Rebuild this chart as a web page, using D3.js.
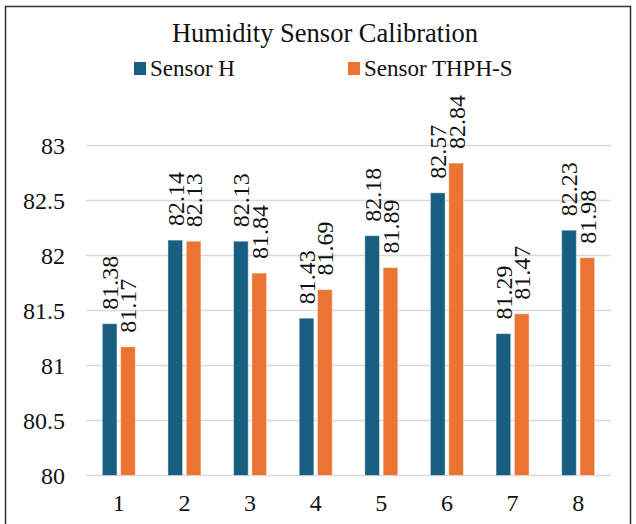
<!DOCTYPE html>
<html>
<head>
<meta charset="utf-8">
<script src="https://cdn.jsdelivr.net/npm/d3@7"></script>
<style>
  body { margin: 0; background: #fff; }
</style>
</head>
<body>
<svg id="chart"></svg>
<script>
// chart data
const categories = ["1", "2", "3", "4", "5", "6", "7", "8"];
const seriesNames = ["Sensor H", "Sensor THPH-S"];
const sensorH = [81.38, 82.14, 82.13, 81.43, 82.18, 82.57, 81.29, 82.23];
const sensorTHPHS = [81.17, 82.13, 81.84, 81.69, 81.89, 82.84, 81.47, 81.98];
const yTicks = [80, 80.5, 81, 81.5, 82, 82.5, 83];

const colors = ["#175e80", "#eb7433"];
const serif = "'Liberation Serif', 'Times New Roman', Times, serif";

const width = 636;
const height = 524;

const svg = d3.select("#chart")
    .attr("width", width)
    .attr("height", height)
    .attr("font-family", serif);

// outer frame
svg.append("rect")
    .attr("x", 5.5)
    .attr("y", 6.5)
    .attr("width", 625)
    .attr("height", 540)
    .attr("fill", "none")
    .attr("stroke", "#333")
    .attr("stroke-width", 1.5);

// title
svg.append("text")
    .attr("x", 325)
    .attr("y", 42)
    .attr("text-anchor", "middle")
    .attr("font-size", 26.5)
    .attr("fill", "#111")
    .text("Humidity Sensor Calibration");

// scales
const x0 = d3.scaleBand()
    .domain(categories)
    .range([86, 611])
    .paddingInner(0.497)
    .paddingOuter(0.2485);

const x1 = d3.scaleBand()
    .domain(seriesNames)
    .range([0, x0.bandwidth()])
    .paddingInner(0.2);

const y = d3.scaleLinear()
    .domain([80, 83])
    .range([475.5, 145.5]);

// gridlines
svg.append("g")
    .selectAll("line")
    .data(yTicks)
    .join("line")
    .attr("x1", 86)
    .attr("x2", 611)
    .attr("y1", d => y(d))
    .attr("y2", d => y(d))
    .attr("stroke", "#d9d9d9")
    .attr("stroke-width", 1.5);

// y tick labels
svg.append("g")
    .selectAll("text")
    .data(yTicks)
    .join("text")
    .attr("x", 65)
    .attr("y", d => y(d))
    .attr("dy", "0.35em")
    .attr("text-anchor", "end")
    .attr("font-size", 24)
    .attr("fill", "#111")
    .text(d => d);

// x tick labels
svg.append("g")
    .selectAll("text")
    .data(categories)
    .join("text")
    .attr("x", d => x0(d) + x0.bandwidth() / 2)
    .attr("y", 511)
    .attr("text-anchor", "middle")
    .attr("font-size", 24)
    .attr("fill", "#111")
    .text(d => d);

// bars
const rows = categories.map((c, i) => ({
    cat: c,
    vals: [
        { name: seriesNames[0], v: sensorH[i], color: colors[0] },
        { name: seriesNames[1], v: sensorTHPHS[i], color: colors[1] }
    ]
}));

const groups = svg.append("g")
    .selectAll("g")
    .data(rows)
    .join("g")
    .attr("transform", d => `translate(${x0(d.cat)},0)`);

groups.selectAll("rect")
    .data(d => d.vals)
    .join("rect")
    .attr("x", d => x1(d.name))
    .attr("y", d => y(d.v))
    .attr("width", x1.bandwidth())
    .attr("height", d => y(80) - y(d.v))
    .attr("fill", d => d.color)
    .attr("stroke", "#fff")
    .attr("stroke-opacity", 0.45)
    .attr("stroke-width", 1);

// value labels, rotated, sitting a little above each bar
groups.selectAll("text")
    .data(d => d.vals)
    .join("text")
    .attr("transform", d => `translate(${x1(d.name) + x1.bandwidth() / 2},${y(d.v) - 14}) rotate(-90)`)
    .attr("dy", "0.35em")
    .attr("font-size", 24)
    .attr("fill", "#111")
    .text(d => d.v.toFixed(2));

// legend
const legendX = [134, 348];
const legend = svg.append("g")
    .selectAll("g")
    .data(seriesNames)
    .join("g")
    .attr("transform", (d, i) => `translate(${legendX[i]},62)`);

legend.append("rect")
    .attr("width", 12)
    .attr("height", 13)
    .attr("fill", (d, i) => colors[i]);

legend.append("text")
    .attr("x", 16)
    .attr("y", 13.5)
    .attr("font-size", 23)
    .attr("fill", "#111")
    .text(d => d);
</script>
</body>
</html>
